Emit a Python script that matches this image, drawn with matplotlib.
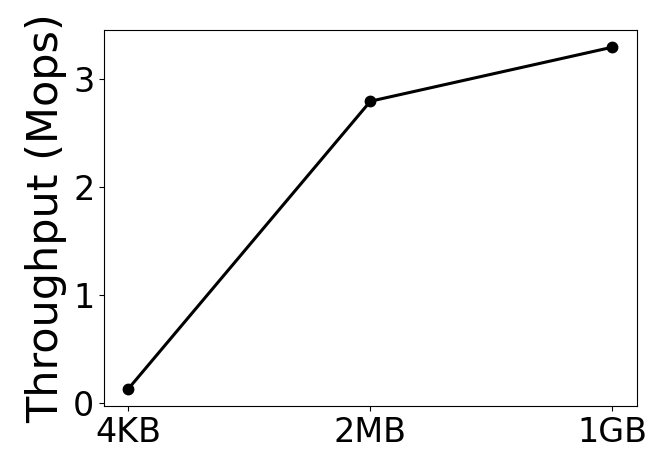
import matplotlib
matplotlib.use("Agg")
import matplotlib.pyplot as plt

sizes = ["4KB", "2MB", "1GB"]
throughput = [0.13, 2.79, 3.29]

fig = plt.figure(figsize=(6.51, 4.49), dpi=100)
ax = fig.add_axes([0.16, 0.096, 0.818, 0.837])

ax.plot(range(len(sizes)), throughput, color="black", linewidth=2.2,
        marker="o", markersize=7.5)

ax.set_xticks(range(len(sizes)))
ax.set_xticklabels(sizes)
ax.set_yticks([0, 1, 2, 3])
ax.tick_params(labelsize=24)
ax.set_ylabel("Throughput (Mops)", fontsize=31)

fig.savefig("out.png", dpi=100)
